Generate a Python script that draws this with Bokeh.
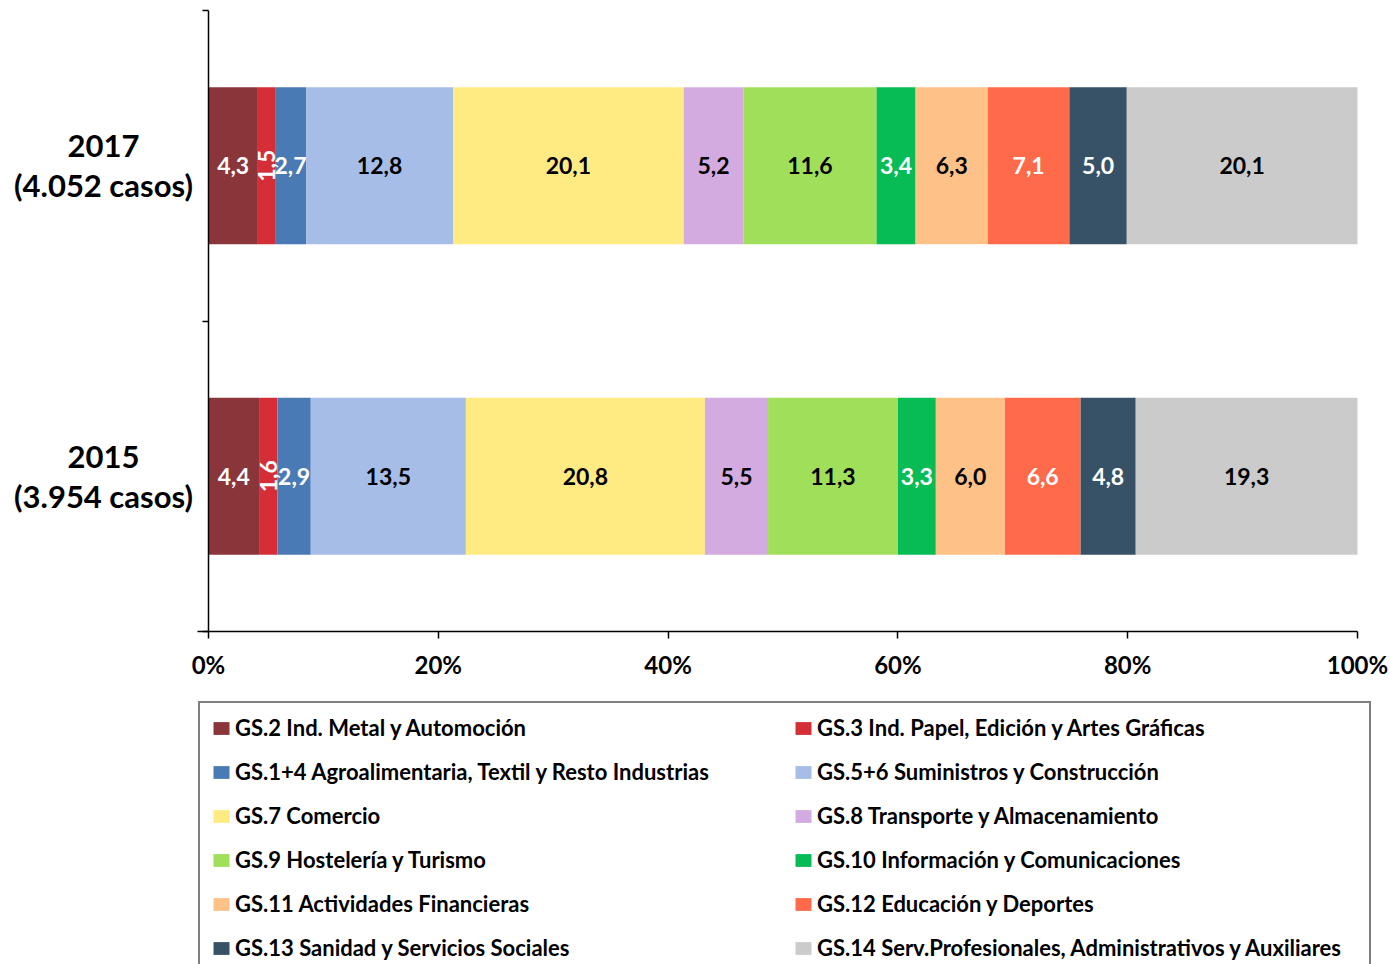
import numpy as np
from bokeh.plotting import figure
from bokeh.models import (ColumnDataSource, Range1d, FixedTicker, PrintfTickFormatter,
                          LabelSet, Legend, LegendItem)
from bokeh.core.properties import value
from bokeh.embed import file_html
from bokeh.resources import INLINE

# ---------------- data ----------------
years = ["2015", "2017"]
cases = ["(3.954 casos)", "(4.052 casos)"]
groups = [
    "GS.2 Ind. Metal y Automoción",
    "GS.3 Ind. Papel, Edición y Artes Gráficas",
    "GS.1+4 Agroalimentaria, Textil y Resto Industrias",
    "GS.5+6 Suministros y Construcción",
    "GS.7 Comercio",
    "GS.8 Transporte y Almacenamiento",
    "GS.9 Hostelería y Turismo",
    "GS.10 Información y Comunicaciones",
    "GS.11 Actividades Financieras",
    "GS.12 Educación y Deportes",
    "GS.13 Sanidad y Servicios Sociales",
    "GS.14 Serv.Profesionales, Administrativos y Auxiliares",
]
v2015 = [4.4, 1.6, 2.9, 13.5, 20.8, 5.5, 11.3, 3.3, 6.0, 6.6, 4.8, 19.3]
v2017 = [4.3, 1.5, 2.7, 12.8, 20.1, 5.2, 11.6, 3.4, 6.3, 7.1, 5.0, 20.1]
x_ticks = [0, 20, 40, 60, 80, 100]

# ---------------- styles / layout ----------------
colors = ["#8A353A", "#D62E37", "#4A7AB4", "#A6BDE7", "#FFEB82", "#D4ABE0",
          "#A0DF5A", "#07BC55", "#FEC288", "#FF6B4A", "#375267", "#CBCBCB"]
label_colors = ["white", "white", "white", "black", "black", "black",
                "black", "white", "black", "white", "white", "black"]
label_angles = [0, np.pi / 2, 0, 0, 0, 0, 0, 0, 0, 0, 0, 0]
FONT = "Lato"
W, H = 1390, 964
PX_X0, PX_X100 = 208, 1357      # pixel of 0% and 100%
PX_YB, PX_YT = 631, 10          # pixel of bottom and top of the category area
CAT_LINE_PX = 19.5              # half distance between the two category label lines

values = np.array([v2015, v2017], dtype=float)
shares = values / values.sum(axis=1, keepdims=True) * 100.0
n = len(years)
ys = [2 * i + 1 for i in range(n)]
ytop = 2 * n

sx = (PX_X100 - PX_X0) / 100.0
sy = (PX_YB - PX_YT) / ytop
x_range = Range1d(-PX_X0 / sx, 100 + (W - PX_X100) / sx)
y_range = Range1d(-(H - PX_YB) / sy, ytop + PX_YT / sy)

keys = [f"g{i}" for i in range(len(groups))]
data = {"y": ys}
for k, col in zip(keys, shares.T):
    data[k] = col
src = ColumnDataSource(data)

p = figure(width=W, height=H, output_backend="svg", toolbar_location=None,
           x_range=x_range, y_range=y_range, title="",
           min_border=0, min_border_left=0, min_border_right=0,
           min_border_top=0, min_border_bottom=0)
p.title.visible = False
p.outline_line_color = None
p.xgrid.visible = False
p.ygrid.visible = False
p.background_fill_color = "white"
p.border_fill_color = "white"

renderers = p.hbar_stack(keys, y="y", height=1.01, fill_color=colors,
                         line_color=None, source=src)

# data labels
lx, ly, lt, lc, la = [], [], [], [], []
for r, y in enumerate(ys):
    ends = np.cumsum(shares[r])
    mids = ends - shares[r] / 2
    for g in range(len(groups)):
        lx.append(mids[g])
        ly.append(y)
        lt.append(f"{values[r, g]:.1f}".replace(".", ","))
        lc.append(label_colors[g])
        la.append(label_angles[g])
lab_src = ColumnDataSource(dict(x=lx, y=ly, text=lt, color=lc, angle=la))
p.add_layout(LabelSet(x="x", y="y", text="text", source=lab_src, angle="angle",
                      text_color="color", text_align="center", text_baseline="middle",
                      text_font=value(FONT), text_font_style="bold",
                      text_font_size="23px"))

# category labels (two centred lines each)
dy = CAT_LINE_PX / sy
cat_src = ColumnDataSource(dict(x=[0] * n,
                                y1=[y + dy for y in ys], t1=years,
                                y2=[y - dy for y in ys], t2=cases))
for ycol, tcol in (("y1", "t1"), ("y2", "t2")):
    p.add_layout(LabelSet(x="x", y=ycol, text=tcol, source=cat_src, x_offset=-105,
                          text_align="center", text_baseline="middle",
                          text_color="black", text_font=value(FONT),
                          text_font_style="bold", text_font_size="31px"))

# x axis
xa = p.xaxis[0]
xa.fixed_location = 0
xa.bounds = (-0.96, 100)
xa.ticker = FixedTicker(ticks=x_ticks, minor_ticks=[])
xa.formatter = PrintfTickFormatter(format="%d%%")
xa.major_tick_out = 7
xa.major_tick_in = 0
xa.minor_tick_out = 0
xa.axis_line_width = 1.5
xa.major_tick_line_width = 1.5
xa.axis_line_color = "black"
xa.major_tick_line_color = "black"
xa.major_label_standoff = 11
xa.major_label_text_font = FONT
xa.major_label_text_font_style = "bold"
xa.major_label_text_font_size = "24px"
xa.major_label_text_color = "black"

# y axis: ticks at category boundaries
ya = p.yaxis[0]
ya.fixed_location = 0
ya.bounds = (0, ytop)
ya.ticker = FixedTicker(ticks=[], minor_ticks=[2 * i for i in range(n + 1)])
ya.minor_tick_out = 6
ya.minor_tick_in = 0
ya.major_tick_out = 0
ya.minor_tick_line_color = "black"
ya.minor_tick_line_width = 1.5
ya.axis_line_width = 1.5
ya.axis_line_color = "black"
ya.major_label_text_font_size = "0px"

# legend
items = [LegendItem(label=g, renderers=[r]) for g, r in zip(groups, renderers)]
legend = Legend(items=items, location=(198, -10), orientation="horizontal", ncols=2,
                glyph_width=20, glyph_height=16, label_standoff=4, spacing=17,
                padding=11, margin=0, label_width=541, label_height=24,
                label_text_font=FONT, label_text_font_style="bold",
                label_text_font_size="22px", label_text_color="black",
                border_line_color="black", border_line_width=2,
                background_fill_color="white", background_fill_alpha=1.0)
p.add_layout(legend)

open("out.html", "w").write(file_html(p, INLINE))
